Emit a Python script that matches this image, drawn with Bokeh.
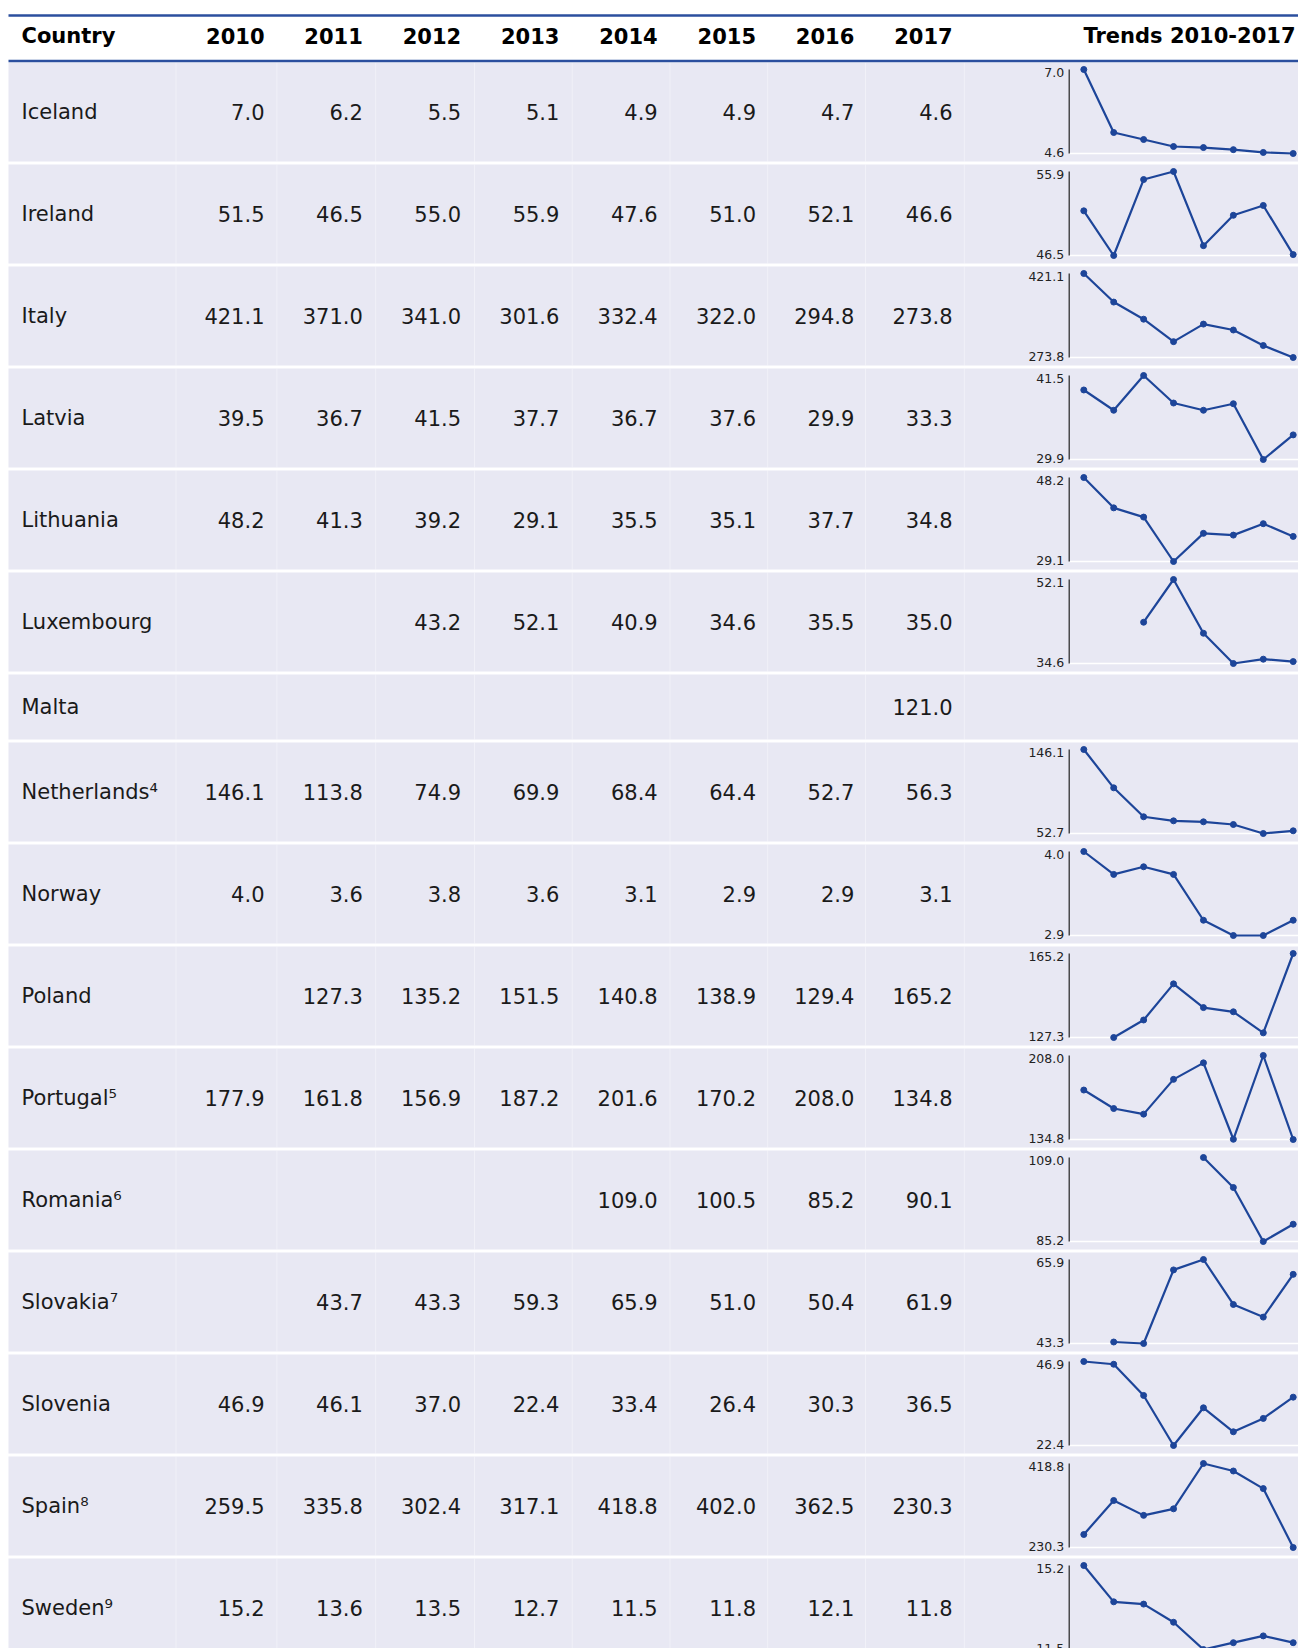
import math
from bokeh.plotting import figure
from bokeh.models import Range1d, ColumnDataSource
from bokeh.core.properties import value
from bokeh.embed import file_html
from bokeh.resources import INLINE

nan = float("nan")

# ---------------- data (table) ----------------
years = [2010, 2011, 2012, 2013, 2014, 2015, 2016, 2017]
year_labels = ["2010", "2011", "2012", "2013", "2014", "2015", "2016", "2017"]
countries = ["Iceland", "Ireland", "Italy", "Latvia", "Lithuania", "Luxembourg",
             "Malta", "Netherlands⁴", "Norway", "Poland", "Portugal⁵",
             "Romania⁶", "Slovakia⁷", "Slovenia", "Spain⁸", "Sweden⁹"]

iceland = [7.0, 6.2, 5.5, 5.1, 4.9, 4.9, 4.7, 4.6]
ireland = [51.5, 46.5, 55.0, 55.9, 47.6, 51.0, 52.1, 46.6]
italy = [421.1, 371.0, 341.0, 301.6, 332.4, 322.0, 294.8, 273.8]
latvia = [39.5, 36.7, 41.5, 37.7, 36.7, 37.6, 29.9, 33.3]
lithuania = [48.2, 41.3, 39.2, 29.1, 35.5, 35.1, 37.7, 34.8]
luxembourg = [nan, nan, 43.2, 52.1, 40.9, 34.6, 35.5, 35.0]
malta = [nan, nan, nan, nan, nan, nan, nan, 121.0]
netherlands = [146.1, 113.8, 74.9, 69.9, 68.4, 64.4, 52.7, 56.3]
norway = [4.0, 3.6, 3.8, 3.6, 3.1, 2.9, 2.9, 3.1]
poland = [nan, 127.3, 135.2, 151.5, 140.8, 138.9, 129.4, 165.2]
portugal = [177.9, 161.8, 156.9, 187.2, 201.6, 170.2, 208.0, 134.8]
romania = [nan, nan, nan, nan, 109.0, 100.5, 85.2, 90.1]
slovakia = [nan, 43.7, 43.3, 59.3, 65.9, 51.0, 50.4, 61.9]
slovenia = [46.9, 46.1, 37.0, 22.4, 33.4, 26.4, 30.3, 36.5]
spain = [259.5, 335.8, 302.4, 317.1, 418.8, 402.0, 362.5, 230.3]
sweden = [15.2, 13.6, 13.5, 12.7, 11.5, 11.8, 12.1, 11.8]

series = [iceland, ireland, italy, latvia, lithuania, luxembourg, malta,
          netherlands, norway, poland, portugal, romania, slovakia,
          slovenia, spain, sweden]

# ---------------- data (trend sparklines, as drawn in the picture) ----------------
trend_iceland = [7.0, 5.2, 5.0, 4.8, 4.77, 4.71, 4.63, 4.6]
trend_netherlands = [146.1, 103.5, 71.3, 66.8, 65.7, 62.7, 52.7, 55.7]
trend_norway = [4.0, 3.7, 3.8, 3.7, 3.1, 2.9, 2.9, 3.1]
trend_portugal = [177.9, 161.8, 156.9, 187.2, 201.6, 135.0, 208.0, 134.8]
trend_slovakia = [nan, 43.7, 43.3, 63.1, 65.9, 53.8, 50.4, 61.9]

trends = [trend_iceland, ireland, italy, latvia, lithuania, luxembourg, malta,
          trend_netherlands, trend_norway, poland, trend_portugal, romania,
          trend_slovakia, slovenia, spain, sweden]

# ---------------- style / layout ----------------
W, H = 1298, 1648
OFF = 0
FONT = value("DejaVu Sans")
ROW_BG = "#e8e8f3"
LINE_BLUE = "#2b4f9e"
SPARK = "#1d4599"
ROW_PITCH = 102
ROW_H = 99
SHORT_PITCH = 68
SHORT_H = 65
TABLE_LEFT = 8

p = figure(width=W, height=H, x_range=Range1d(0, W), y_range=Range1d(H, 0),
           output_backend="svg", toolbar_location=None, min_border=0,
           x_axis_type=None, y_axis_type=None, outline_line_color=None,
           background_fill_color="white", border_fill_color="white")
p.grid.visible = False

# row geometry
row_tops, row_hs = [], []
y = 62
for vals in trends:
    n_valid = sum(0 if math.isnan(v) else 1 for v in vals)
    short = n_valid < 2
    row_tops.append(y - OFF)
    row_hs.append(SHORT_H if short else ROW_H)
    y += SHORT_PITCH if short else ROW_PITCH

# row backgrounds
p.quad(left=[TABLE_LEFT] * len(series), right=[W] * len(series),
       top=row_tops, bottom=[t + h for t, h in zip(row_tops, row_hs)],
       fill_color=ROW_BG, line_color=None)

# faint column separators
col_seps = [175.5, 276.4, 375.2, 474.0, 571.7, 669.5, 767.2, 865.0, 963.8]
for t, h in zip(row_tops, row_hs):
    p.segment(x0=[c - OFF for c in col_seps], x1=[c - OFF for c in col_seps],
              y0=[t] * len(col_seps), y1=[t + h] * len(col_seps),
              line_color="white", line_alpha=0.4, line_width=1)

# header lines
p.segment(x0=[TABLE_LEFT, TABLE_LEFT], x1=[W, W],
          y0=[15 - OFF, 60.5 - OFF], y1=[15 - OFF, 60.5 - OFF],
          line_color=LINE_BLUE, line_width=2.6)

# header texts
HDR_Y = 35 - OFF
p.text(x=[21 - OFF], y=[HDR_Y], text=["Country"], text_font=FONT,
       text_font_size="21px", text_font_style="bold", text_color="black",
       text_align="left", text_baseline="middle")
col_right = [264 - OFF + 98.3 * i for i in range(len(years))]
p.text(x=col_right, y=[HDR_Y] * len(years), text=year_labels, text_font=FONT,
       text_font_size="21px", text_font_style="bold", text_color="black",
       text_align="right", text_baseline="middle")
p.text(x=[1295 - OFF], y=[HDR_Y], text=["Trends 2010-2017"], text_font=FONT,
       text_font_size="21px", text_font_style="bold", text_color="black",
       text_align="right", text_baseline="middle")

# body texts
cx, cy, ct = [], [], []
for name, t, h in zip(countries, row_tops, row_hs):
    cx.append(21 - OFF)
    cy.append(t + h / 2.0)
    ct.append(name)
p.text(x=cx, y=cy, text=ct, text_font=FONT, text_font_size="21px",
       text_color="#1a1a1a", text_align="left", text_baseline="middle")

vx, vy, vt = [], [], []
for vals, t, h in zip(series, row_tops, row_hs):
    for i, v in enumerate(vals):
        if not math.isnan(v):
            vx.append(col_right[i])
            vy.append(t + h / 2.0)
            vt.append("%.1f" % v)
p.text(x=vx, y=vy, text=vt, text_font=FONT, text_font_size="21px",
       text_color="#1a1a1a", text_align="right", text_baseline="middle")

# ---------------- sparklines ----------------
first_px, last_px = 1083.3 - OFF, 1292.7 - OFF
axis_px = 1068.7 - OFF
k = (years[-1] - years[0]) / (last_px - first_px)
yr_start = years[0] - first_px * k
p.extra_x_ranges = {"yr": Range1d(start=yr_start, end=yr_start + W * k)}
axis_year = years[0] - (first_px - axis_px) * k
end_year = yr_start + W * k

extra_y = {}
for idx, (vals, t) in enumerate(zip(trends, row_tops)):
    valid = [v for v in vals if not math.isnan(v)]
    if len(valid) < 2:
        continue
    vmin, vmax = min(valid), max(valid)
    top_px, bot_px = t + 7, t + 91
    per_px = (vmax - vmin) / (bot_px - top_px)
    end = vmax + top_px * per_px
    start = end - H * per_px
    extra_y["r%d" % idx] = Range1d(start=start, end=end)
p.extra_y_ranges = extra_y

for idx, vals in enumerate(trends):
    rn = "r%d" % idx
    if rn not in extra_y:
        continue
    valid = [v for v in vals if not math.isnan(v)]
    vmin, vmax = min(valid), max(valid)
    # white baseline at min
    p.segment(x0=[axis_year], x1=[end_year], y0=[vmin], y1=[vmin],
              line_color="white", line_width=1.5,
              x_range_name="yr", y_range_name=rn)
    # axis line
    p.segment(x0=[axis_year], x1=[axis_year], y0=[vmin], y1=[vmax],
              line_color="#222222", line_width=1.2,
              x_range_name="yr", y_range_name=rn)
    # tick labels
    p.text(x=[axis_year], y=[vmax], text=["%.1f" % vmax], text_font=FONT,
           text_font_size="12.5px", text_color="#222222", text_align="right",
           text_baseline="top", x_offset=-5, y_offset=-2,
           x_range_name="yr", y_range_name=rn)
    p.text(x=[axis_year], y=[vmin], text=["%.1f" % vmin], text_font=FONT,
           text_font_size="12.5px", text_color="#222222", text_align="right",
           text_baseline="alphabetic", x_offset=-5, y_offset=-1,
           x_range_name="yr", y_range_name=rn)
    src = ColumnDataSource(dict(x=years, y=vals))
    p.line("x", "y", source=src, line_color=SPARK, line_width=2.2,
           x_range_name="yr", y_range_name=rn)
    p.scatter("x", "y", source=src, size=6, fill_color=SPARK, line_color=SPARK,
              x_range_name="yr", y_range_name=rn)

open("out.html", "w").write(file_html(p, INLINE))
